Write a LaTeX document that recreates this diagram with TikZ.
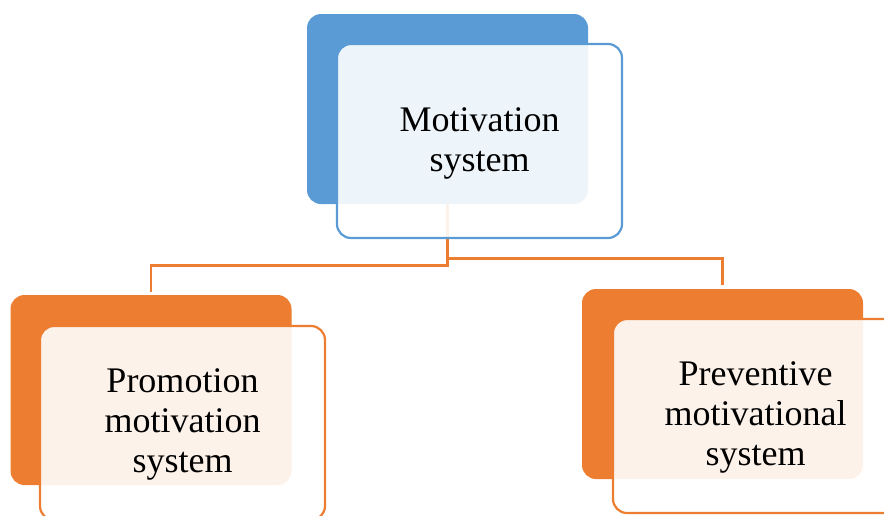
\documentclass[tikz,border=0pt]{standalone}
\usepackage{fontspec}
\setmainfont{Liberation Serif}
\definecolor{cblue}{HTML}{5B9BD5}
\definecolor{corange}{HTML}{ED7D31}
\tikzset{
  backbox/.style={draw=none, fill=#1, rounded corners=14pt, minimum width=281pt, minimum height=190pt, inner sep=0pt},
  frontbox/.style={draw=#1, line width=2.2pt, fill=white, fill opacity=0.9, text opacity=1, rounded corners=14pt, minimum width=285pt, minimum height=194pt, inner sep=0pt, align=center, font=\fontsize{36}{40}\selectfont},
  conn/.style={draw=corange, line width=2.6pt}
}
\begin{document}
\begin{tikzpicture}[x=1pt,y=-1pt]
\clip (0,0) rectangle (884,515);
\node[backbox=cblue] (pb) at (447.5,109) {};
\node[backbox=corange] (lb) at (151,390) {};
\node[backbox=corange] (rb) at (722.5,384) {};
\draw[conn] (pb.south) -- ++(0,61) -| ([yshift=3pt]lb.north);
\draw[conn] (pb.south) -- ++(0,54) -| ([yshift=4pt]rb.north);
\node[frontbox=cblue] (pf) at (479.5,141) {};
\node[frontbox=corange] (lf) at (182.5,423) {};
\node[frontbox=corange] (rf) at (755.5,416) {};
\node[align=center, font=\fontsize{36}{40}\selectfont] at ([yshift=-2pt]pf.center) {Motivation\\system};
\node[align=center, font=\fontsize{36}{40}\selectfont] at ([yshift=-1pt]lf.center) {Promotion\\motivation\\system};
\node[align=center, font=\fontsize{36}{40}\selectfont] at ([yshift=-1pt]rf.center) {Preventive\\motivational\\system};
\end{tikzpicture}
\end{document}
